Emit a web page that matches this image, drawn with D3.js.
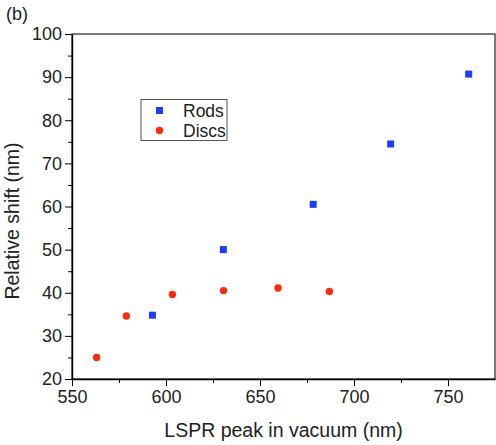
<!DOCTYPE html>
<html>
<head>
<meta charset="utf-8">
<script src="https://cdn.jsdelivr.net/npm/d3@7"></script>
<style>
  body { margin: 0; background: #fff; }
  text { font-family: "Liberation Sans", Arial, sans-serif; fill: #222; }
</style>
</head>
<body>
<div id="chart"></div>
<script>
const rodsX = [592.8, 630.5, 678.3, 719.5, 761.0];
const rodsY = [34.8, 50.0, 60.5, 74.5, 90.7];
const discsX = [563.1, 578.9, 603.4, 630.6, 659.6, 686.9];
const discsY = [25.0, 34.6, 39.6, 40.5, 41.1, 40.3];
const xTicks = [550, 600, 650, 700, 750];
const yTicks = [20, 30, 40, 50, 60, 70, 80, 90, 100];
const seriesNames = ["Rods", "Discs"];

(function () {
  const width = 496, height = 445;
  const margin = { top: 34, right: 1, bottom: 66, left: 72 };

  const svg = d3.select("#chart").append("svg")
    .attr("width", width)
    .attr("height", height);

  const x = d3.scaleLinear()
    .domain([550, 775])
    .range([margin.left, width - margin.right]);

  const y = d3.scaleLinear()
    .domain([20, 100])
    .range([height - margin.bottom, margin.top]);

  // cadre (haut et droite)
  svg.append("rect")
    .attr("x", x(550))
    .attr("y", y(100))
    .attr("width", x(775) - x(550))
    .attr("height", y(20) - y(100))
    .attr("fill", "none")
    .attr("stroke", "#333")
    .attr("stroke-width", 1.3);

  // petites graduations
  svg.append("g")
    .attr("transform", `translate(0,${y(20)})`)
    .call(d3.axisBottom(x).tickValues(d3.range(575, 775, 50)).tickSize(4).tickFormat(""))
    .call(g => g.select(".domain").remove());

  svg.append("g")
    .attr("transform", `translate(${x(550)},0)`)
    .call(d3.axisLeft(y).tickValues(d3.range(25, 100, 10)).tickSize(4).tickFormat(""))
    .call(g => g.select(".domain").remove());

  const xAxis = svg.append("g")
    .attr("transform", `translate(0,${y(20)})`)
    .call(d3.axisBottom(x).tickValues(xTicks).tickSize(7).tickSizeOuter(0).tickPadding(4));
  xAxis.selectAll("text").style("font-size", "18px").style("font-family", "Liberation Sans, Arial, sans-serif").attr("fill", "#222");
  xAxis.select(".domain").attr("stroke-width", 1.4);

  const yAxis = svg.append("g")
    .attr("transform", `translate(${x(550)},0)`)
    .call(d3.axisLeft(y).tickValues(yTicks).tickSize(7).tickSizeOuter(0).tickPadding(3));
  yAxis.selectAll("text").style("font-size", "18px").style("font-family", "Liberation Sans, Arial, sans-serif").attr("fill", "#222");
  yAxis.select(".domain").attr("stroke-width", 1.4);

  // titres des axes
  svg.append("text")
    .attr("x", (x(550) + x(775)) / 2)
    .attr("y", 437)
    .attr("text-anchor", "middle")
    .style("font-size", "19.5px")
    .text("LSPR peak in vacuum (nm)");

  svg.append("text")
    .attr("transform", `translate(19,221) rotate(-90)`)
    .attr("text-anchor", "middle")
    .style("font-size", "19.5px")
    .text("Relative shift (nm)");

  svg.append("text")
    .attr("x", 6)
    .attr("y", 20)
    .style("font-size", "18px")
    .text("(b)");

  // points
  const rods = rodsX.map((v, i) => ({ x: v, y: rodsY[i] }));
  const discs = discsX.map((v, i) => ({ x: v, y: discsY[i] }));

  svg.selectAll("rect.rod")
    .data(rods)
    .enter().append("rect")
    .attr("class", "rod")
    .attr("x", d => x(d.x) - 3.5)
    .attr("y", d => y(d.y) - 3.5)
    .attr("width", 7)
    .attr("height", 7)
    .attr("fill", "#1e3cff");

  svg.selectAll("circle.disc")
    .data(discs)
    .enter().append("circle")
    .attr("class", "disc")
    .attr("cx", d => x(d.x))
    .attr("cy", d => y(d.y))
    .attr("r", 3.7)
    .attr("fill", "#ff2a0e");

  // légende
  const lg = svg.append("g").attr("transform", "translate(141,99.5)");
  lg.append("rect")
    .attr("width", 86)
    .attr("height", 41)
    .attr("fill", "#fff")
    .attr("stroke", "#555")
    .attr("stroke-width", 1);
  lg.append("rect")
    .attr("x", 15).attr("y", 7.5)
    .attr("width", 7).attr("height", 7)
    .attr("fill", "#1e3cff");
  lg.append("circle")
    .attr("cx", 18.5).attr("cy", 31)
    .attr("r", 3.7)
    .attr("fill", "#ff2a0e");
  lg.selectAll("text.lab")
    .data(seriesNames)
    .enter().append("text")
    .attr("class", "lab")
    .attr("x", 42)
    .attr("y", (d, i) => 17 + i * 20)
    .style("font-size", "17.5px")
    .text(d => d);
})();
</script>
</body>
</html>
